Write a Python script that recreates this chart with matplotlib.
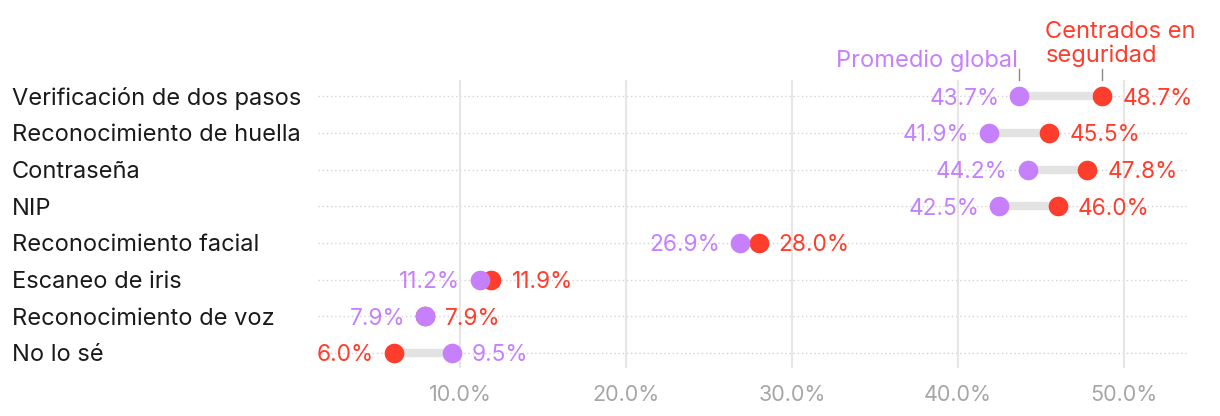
import matplotlib.pyplot as plt
import matplotlib.transforms as mtransforms

plt.rcParams.update({
    "font.family": ["Inter", "DejaVu Sans"],
    "figure.facecolor": "white",
    "axes.facecolor": "white",
})

categories = ["Verificación de dos pasos", "Reconocimiento de huella", "Contraseña", "NIP",
              "Reconocimiento facial", "Escaneo de iris", "Reconocimiento de voz", "No lo sé"]
global_avg = [43.7, 41.9, 44.2, 42.5, 26.9, 11.2, 7.9, 9.5]
security = [48.7, 45.5, 47.8, 46.0, 28.0, 11.9, 7.9, 6.0]
xticks = [10, 20, 30, 40, 50]

PURPLE = "#c680fc"
RED = "#ff3d2c"
FS = 17
VFS = 16.3

fig = plt.figure(figsize=(12.2, 4.16), dpi=100)
ax = fig.add_axes([318 / 1220, 1 - 368 / 416, (1187 - 318) / 1220, 288 / 416])
ax.set_xlim(1.45, 53.8)
ax.set_ylim(len(categories) - 1 + 0.41, -0.44)

for s in ax.spines.values():
    s.set_visible(False)
ax.set_yticks([])
ax.set_xticks(xticks)
ax.set_xticklabels([f"{t:.1f}%" for t in xticks], fontsize=15.5, color="#a6a6a6")
ax.tick_params(axis="x", length=0, pad=12)
ax.grid(axis="x", color="#e6e6e6", linewidth=1.5)
ax.set_axisbelow(True)

label_tf = mtransforms.blended_transform_factory(fig.transFigure, ax.transData)
for i, (cat, g, s) in enumerate(zip(categories, global_avg, security)):
    ax.axhline(i, color="#d4d4d4", linewidth=1, linestyle=(0, (1, 2)), zorder=0)
    ax.text(12 / 1220, i, cat, transform=label_tf, fontsize=FS, color="#1a1a1a",
            ha="left", va="center_baseline")
    ax.plot([g, s], [i, i], color="#e3e3e3", linewidth=6, solid_capstyle="butt", zorder=1)
    ax.scatter([s], [i], s=200, color=RED, zorder=3, linewidths=0)
    ax.scatter([g], [i], s=200, color=PURPLE, zorder=4, linewidths=0)
    if g <= s:
        left, lcol, right, rcol = g, PURPLE, s, RED
    else:
        left, lcol, right, rcol = s, RED, g, PURPLE
    ax.annotate(f"{left:.1f}%", (left, i), xytext=(-20, 0), textcoords="offset pixels",
                ha="right", va="center_baseline", fontsize=VFS, color=lcol)
    ax.annotate(f"{right:.1f}%", (right, i), xytext=(20, 0), textcoords="offset pixels",
                ha="left", va="center_baseline", fontsize=VFS, color=rcol)

# series labels above the first row
top_tf = mtransforms.blended_transform_factory(ax.transData, ax.transAxes)
for v in (global_avg[0], security[0]):
    ax.plot([v, v], [1.0, 1.038], color="#8a8a8a", linewidth=1, transform=top_tf, clip_on=False)
ax.annotate("Promedio global", (global_avg[0], 1.0), xycoords=top_tf, xytext=(-1, 22),
            textcoords="offset pixels", ha="right", va="center_baseline", fontsize=FS, color=PURPLE)
ax.annotate("Centrados en\nseguridad", (security[0], 1.0), xycoords=top_tf, xytext=(-57, 36),
            textcoords="offset pixels", ha="left", va="center", fontsize=FS, color=RED,
            linespacing=1.1)

fig.savefig("out.png", dpi=100)
